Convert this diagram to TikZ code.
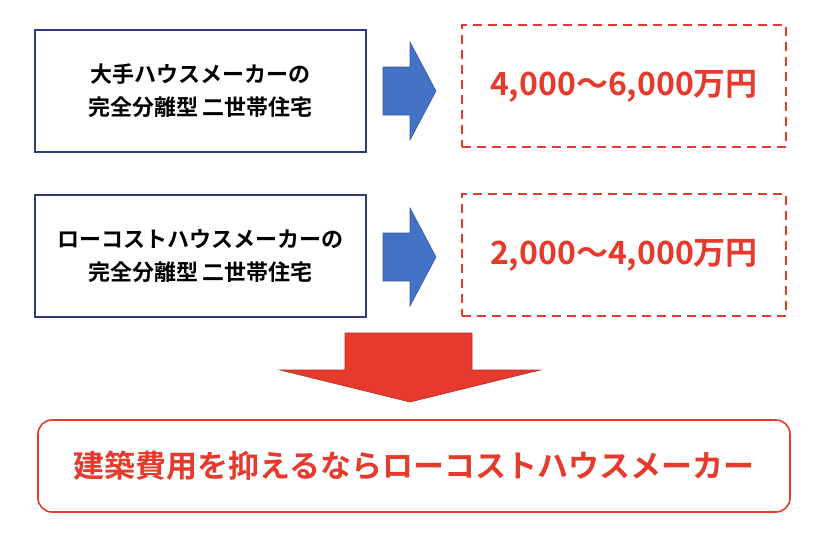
\documentclass[tikz,border=0pt]{standalone}
\usepackage{fontspec}
\setmainfont{Noto Sans CJK JP}[BoldFont={* Bold}]
\definecolor{navy}{HTML}{2F3C7E}
\definecolor{blu}{HTML}{4472C4}
\definecolor{rd}{HTML}{E53A2C}
\tikzset{
 src/.style={draw=navy,line width=1.3pt,minimum width=331pt,minimum height=122pt,align=center,font=\bfseries\fontsize{22}{33}\selectfont},
 res/.style={draw=rd,line width=2pt,dash pattern=on 9pt off 6pt,minimum width=324pt,minimum height=122pt,text=rd,font=\bfseries\fontsize{32}{36}\selectfont},
 barrow/.style={fill=blu,draw=blu!80!black,line width=0.6pt}
}
\begin{document}
\begin{tikzpicture}[x=1pt,y=-1pt]
\useasboundingbox (0,0) rectangle (828,539);
\node[src] (s1) at (200.5,91) {大手ハウスメーカーの\\完全分離型 二世帯住宅};
\node[src] (s2) at (200.5,256) {ローコストハウスメーカーの\\完全分離型 二世帯住宅};
\node[res] (r1) at (624,86) {4,000～6,000万円};
\node[res] (r2) at (624,255) {2,000～4,000万円};
\draw[barrow] (383,67)--(410,67)--(410,42)--(436,91)--(410,140)--(410,115)--(383,115)--cycle;
\draw[barrow] (383,233)--(410,233)--(410,208)--(436,257)--(410,306)--(410,281)--(383,281)--cycle;
\draw[fill=rd,draw=rd!80!black,line width=0.6pt] (345,333)--(472,333)--(472,370)--(540,370)--(410,402)--(280,370)--(345,370)--cycle;
\node[draw=rd,line width=1.6pt,rounded corners=14pt,minimum width=752pt,minimum height=92pt,text=rd,font=\bfseries\fontsize{31}{34}\selectfont] (b) at (414,466) {建築費用を抑えるならローコストハウスメーカー};
\end{tikzpicture}
\end{document}
